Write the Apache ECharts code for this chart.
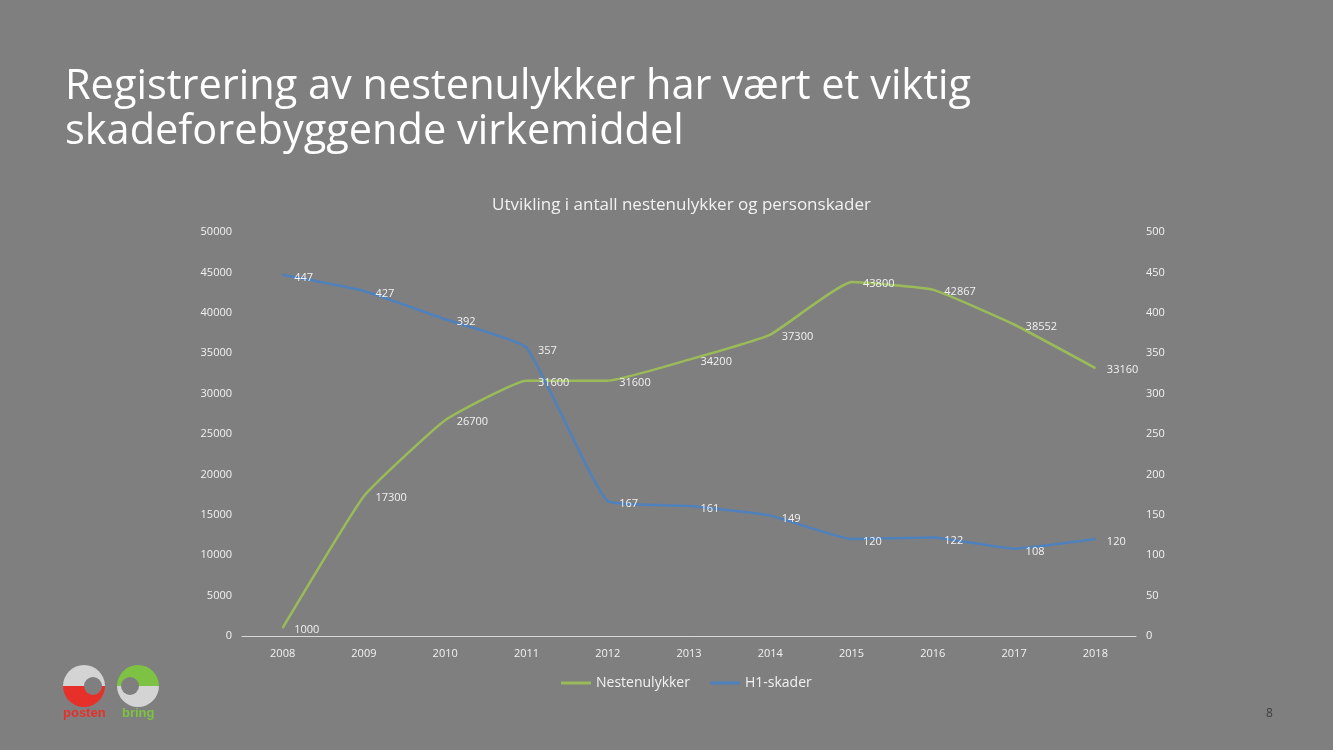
<!DOCTYPE html>
<html><head><meta charset="utf-8">
<script src="https://cdn.jsdelivr.net/npm/echarts@6/dist/echarts.min.js"></script>
<style>html,body{margin:0;padding:0;background:#7f7f7f;}#c{width:1333px;height:750px;}</style>
</head><body><div id="c"></div>
<script>
const years = ['2008','2009','2010','2011','2012','2013','2014','2015','2016','2017','2018'];
const nestenulykker = [1000,17300,26700,31600,31600,34200,37300,43800,42867,38552,33160];
const h1skader = [447,427,392,357,167,161,149,120,122,108,120];
const seriesNames = ['Nestenulykker','H1-skader'];
const slideTitle = 'Registrering av nestenulykker har vært et viktig\nskadeforebyggende virkemiddel';
const chartTitle = 'Utvikling i antall nestenulykker og personskader';

const chart = echarts.init(document.getElementById('c'));
const txt = '#f2f2f2';
const plain = v => String(v);
chart.setOption({
  backgroundColor: '#7f7f7f',
  animation: false,
  textStyle: {fontFamily: 'Open Sans'},
  title: [
    {text: slideTitle, left: 60, top: 60, textStyle: {color: '#ffffff', fontSize: 41.5, fontWeight: 'normal', fontFamily: 'Open Sans', lineHeight: 45}},
    {text: chartTitle, left: 487, top: 192, textStyle: {color: txt, fontSize: 17, fontWeight: 'normal', fontFamily: 'Open Sans'}}
  ],
  legend: {
    data: seriesNames, bottom: 55, left: 556, itemWidth: 30, itemHeight: 3, itemGap: 20,
    icon: 'rect',
    textStyle: {color: txt, fontSize: 14, fontFamily: 'Open Sans'}
  },
  grid: {left: 242, top: 232, width: 894, height: 404},
  xAxis: {
    type: 'category', data: years, boundaryGap: true,
    axisLine: {lineStyle: {color: '#d9d9d9', width: 1}},
    axisTick: {show: false},
    axisLabel: {color: txt, fontSize: 11, margin: 12}
  },
  yAxis: [
    {type: 'value', min: 0, max: 50000, interval: 5000, splitLine: {show: false},
     axisLine: {show: false}, axisTick: {show: false},
     axisLabel: {color: txt, fontSize: 11, margin: 10, formatter: plain}},
    {type: 'value', min: 0, max: 500, interval: 50, splitLine: {show: false},
     axisLine: {show: false}, axisTick: {show: false},
     axisLabel: {color: txt, fontSize: 11, margin: 10, formatter: plain}}
  ],
  series: [
    {name: seriesNames[0], type: 'line', data: nestenulykker, yAxisIndex: 0, smooth: 0.12,
     symbol: 'circle', symbolSize: 1, showSymbol: true, color: '#9bbb59', lineStyle: {width: 2.5, color: '#9bbb59'},
     label: {show: true, position: 'right', distance: 11, offset: [0, 2], color: txt, fontSize: 11, formatter: p => plain(p.value)}},
    {name: seriesNames[1], type: 'line', data: h1skader, yAxisIndex: 1, smooth: 0.12,
     symbol: 'circle', symbolSize: 1, showSymbol: true, color: '#4f81bd', lineStyle: {width: 2.5, color: '#4f81bd'},
     label: {show: true, position: 'right', distance: 11, offset: [0, 3], color: txt, fontSize: 11, formatter: p => plain(p.value)}}
  ],
  graphic: [
    // posten logo
    {type: 'sector', shape: {cx: 84, cy: 686, r: 21, r0: 0, startAngle: Math.PI, endAngle: 2*Math.PI}, style: {fill: '#d4d4d4'}},
    {type: 'sector', shape: {cx: 84, cy: 686, r: 21, r0: 0, startAngle: 0, endAngle: Math.PI}, style: {fill: '#e8302a'}},
    {type: 'circle', shape: {cx: 93, cy: 686, r: 9}, style: {fill: '#7f7f7f'}},
    {type: 'text', left: 63, top: 707, style: {text: 'posten', fill: '#e8302a', fontSize: 13, fontWeight: 'bold', fontFamily: 'Liberation Sans'}},
    // bring logo
    {type: 'sector', shape: {cx: 138, cy: 686, r: 21, r0: 0, startAngle: Math.PI, endAngle: 2*Math.PI}, style: {fill: '#7dc242'}},
    {type: 'sector', shape: {cx: 138, cy: 686, r: 21, r0: 0, startAngle: 0, endAngle: Math.PI}, style: {fill: '#d4d4d4'}},
    {type: 'circle', shape: {cx: 130, cy: 686, r: 9}, style: {fill: '#7f7f7f'}},
    {type: 'text', left: 122, top: 707, style: {text: 'bring', fill: '#7dc242', fontSize: 13, fontWeight: 'bold', fontFamily: 'Liberation Sans'}},
    {type: 'text', left: 1266, top: 708, style: {text: '8', fill: '#404040', fontSize: 12, fontFamily: 'Open Sans'}}
  ]
});
</script></body></html>
